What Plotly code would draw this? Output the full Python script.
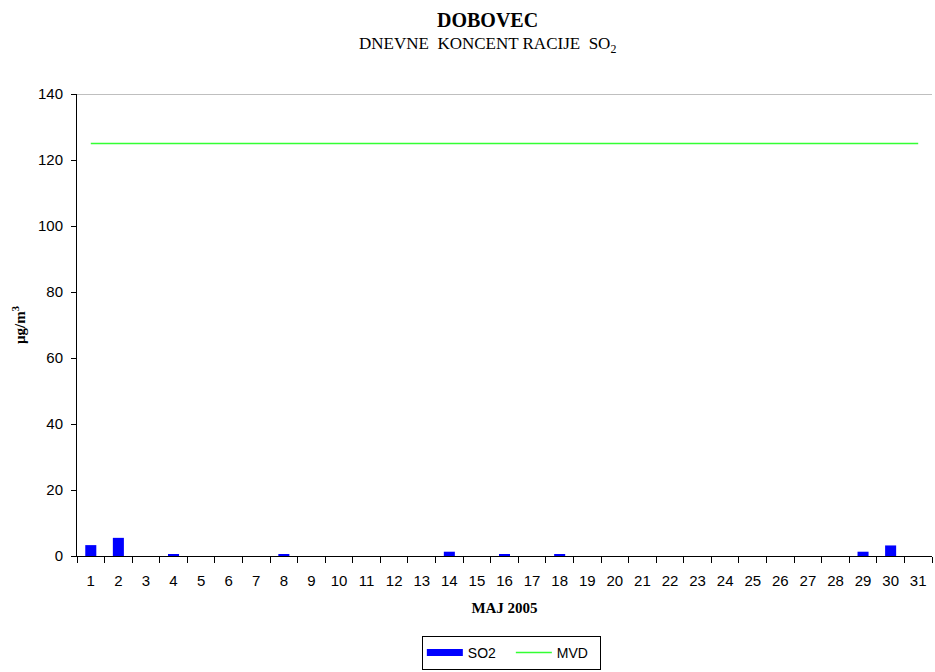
import plotly.graph_objects as go

# Daily SO2 concentrations, May 2005, Dobovec station
days = [str(d) for d in range(1, 32)]
so2 = [3.3, 5.5, 0, 0.4, 0, 0, 0, 0.4, 0, 0, 0, 0, 0, 1.3, 0, 0.4, 0,
       0.4, 0, 0, 0, 0, 0, 0, 0, 0, 0, 0, 1.3, 3.2, 0]
# Daily limit value (MVD)
mvd_value = 125
mvd = [mvd_value] * len(days)

y_ticks = [0, 20, 40, 60, 80, 100, 120, 140]

sans = "Liberation Sans, Arial, sans-serif"
serif = "Liberation Serif, Times New Roman, serif"
so2_color = "#0000ff"
mvd_color = "#33ff33"

fig = go.Figure()
fig.add_trace(go.Bar(
    x=days, y=so2, name="SO2", legendgroup="so2", showlegend=False,
    marker=dict(color=so2_color, line=dict(width=0)),
))
# Legend key for the bars: a wide flat blue swatch
fig.add_trace(go.Scatter(
    x=[None], y=[None], name="SO2", legendgroup="so2", mode="lines",
    line=dict(color=so2_color, width=7),
))
fig.add_trace(go.Scatter(
    x=days, y=mvd, name="MVD", mode="lines",
    line=dict(color=mvd_color, width=1.5),
))

fig.update_layout(
    width=935, height=672,
    paper_bgcolor="white", plot_bgcolor="white",
    margin=dict(l=77, r=3, t=94, b=116, autoexpand=False),
    bargap=0.6,
    showlegend=True,
    legend=dict(
        orientation="h", x=0.508, xanchor="center", y=-0.173, yanchor="top",
        bordercolor="black", borderwidth=1,
        font=dict(family=sans, size=14, color="black"),
        itemwidth=36, entrywidth=38, entrywidthmode="pixels", tracegroupgap=0,
    ),
)

fig.add_annotation(text="<b>DOBOVEC</b>", xref="paper", yref="paper",
                   x=0.48, y=1.161, xanchor="center", yanchor="middle",
                   showarrow=False, font=dict(family=serif, size=20, color="black"))
fig.add_annotation(text="DNEVNE  KONCENT RACIJE  SO<sub>2</sub>", xref="paper", yref="paper",
                   x=0.48, y=1.106, xanchor="center", yanchor="middle",
                   showarrow=False, font=dict(family=serif, size=17, color="black"))

fig.update_xaxes(
    type="category", tickson="boundaries", automargin=False,
    ticks="outside", ticklen=6, tickcolor="black",
    showline=True, linecolor="black", linewidth=1,
    showgrid=False, ticklabelstandoff=11,
    tickfont=dict(family=sans, size=15, color="black"),
    title=dict(text="<b>MAJ 2005</b>", font=dict(family=serif, size=15, color="black"),
               standoff=14),
)
fig.update_yaxes(
    range=[0, 140], tickvals=y_ticks, automargin=False,
    ticks="outside", ticklen=5, tickcolor="black",
    showline=True, linecolor="black", linewidth=1,
    showgrid=False, zeroline=False, ticklabelstandoff=5,
    tickfont=dict(family=sans, size=15, color="black"),
    title=dict(text="<b>µg/m<sup>3</sup></b>", font=dict(family=serif, size=15, color="black"),
               standoff=8),
)

# Top frame edge of the plot area
fig.add_shape(type="line", xref="paper", yref="y", x0=0, x1=1, y0=140, y1=140,
              line=dict(color="#808080", width=1))

fig.write_html("out.html")
